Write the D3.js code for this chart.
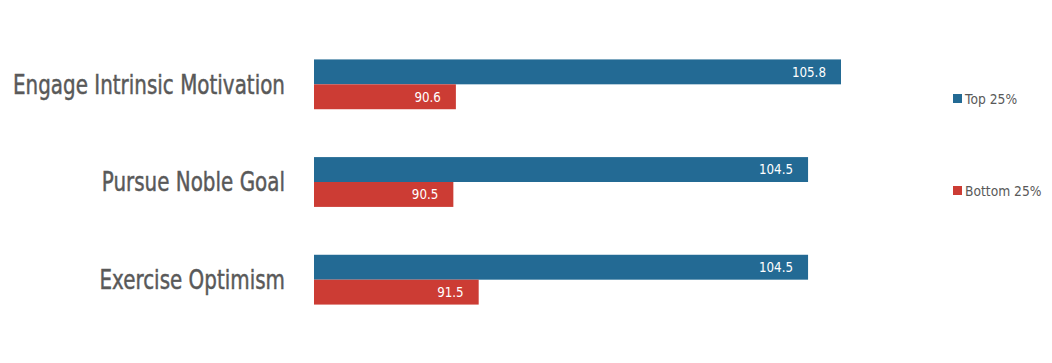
<!DOCTYPE html>
<html>
<head>
<meta charset="utf-8"/>
<script src="https://cdn.jsdelivr.net/npm/d3@7"></script>
<style>
html, body { margin: 0; padding: 0; background: #fff; }
.cat { font-family: "DejaVu Sans", sans-serif; font-size: 27px; fill: #595959; stroke: #595959; stroke-width: 0.5px; }
.val { font-family: "DejaVu Sans", sans-serif; font-size: 14px; fill: #fff; }
.leg { font-family: "DejaVu Sans", sans-serif; font-size: 14px; fill: #595959; }
</style>
</head>
<body>
<svg id="chart" width="1052" height="363"></svg>
<script>
var categories = ["Engage Intrinsic Motivation", "Pursue Noble Goal", "Exercise Optimism"];
var seriesNames = ["Top 25%", "Bottom 25%"];
var top25 = [105.8, 104.5, 104.5];
var bottom25 = [90.6, 90.5, 91.5];
var colors = ["#236a94", "#cc3c34"];

var svg = d3.select("#chart");

var x = d3.scaleLinear().domain([85, 105.8]).range([314, 841]);
var y = d3.scaleBand().domain(categories).range([35, 329]).paddingInner(0.49).paddingOuter(0.25);
var sub = d3.scaleBand().domain(seriesNames).range([0, y.bandwidth()]);

// condense text horizontally (no condensed face available)
function condense(sel, k) {
  sel.each(function() {
    var len = this.getComputedTextLength();
    d3.select(this).attr("textLength", len * k).attr("lengthAdjust", "spacingAndGlyphs");
  });
}

var rows = categories.map(function(c, i) {
  return {cat: c, vals: [top25[i], bottom25[i]]};
});

var g = svg.selectAll("g.row").data(rows).enter().append("g")
  .attr("class", "row")
  .attr("transform", function(d) { return "translate(0," + y(d.cat) + ")"; });

var catText = g.append("text")
  .attr("class", "cat")
  .attr("x", 285)
  .attr("y", y.bandwidth() / 2)
  .attr("dy", "0.35em")
  .attr("text-anchor", "end")
  .text(function(d) { return d.cat; });

var k = 272 / catText.node().getComputedTextLength();
condense(catText, k);

var bars = g.selectAll("g.bar").data(function(d) {
  return d.vals.map(function(v, j) { return {name: seriesNames[j], v: v, j: j}; });
}).enter().append("g").attr("class", "bar");

bars.append("rect")
  .attr("x", x(85))
  .attr("y", function(d) { return sub(d.name); })
  .attr("width", function(d) { return x(d.v) - x(85); })
  .attr("height", sub.bandwidth())
  .attr("fill", function(d) { return colors[d.j]; });

var valText = bars.append("text")
  .attr("class", "val")
  .attr("x", function(d) { return x(d.v) - 15; })
  .attr("y", function(d) { return sub(d.name) + sub.bandwidth() / 2; })
  .attr("dy", "0.35em")
  .attr("text-anchor", "end")
  .text(function(d) { return d.v.toFixed(1); });
condense(valText, 0.85);

var legY = [98, 190];
var leg = svg.selectAll("g.leg").data(seriesNames).enter().append("g")
  .attr("transform", function(d, i) { return "translate(953," + legY[i] + ")"; });
leg.append("rect").attr("x", 0).attr("y", -4).attr("width", 9).attr("height", 9)
  .attr("fill", function(d, i) { return colors[i]; });
var legText = leg.append("text").attr("class", "leg").attr("x", 12).attr("y", 0).attr("dy", "0.4em")
  .text(function(d) { return d; });
condense(legText, 0.88);
</script>
</body>
</html>
